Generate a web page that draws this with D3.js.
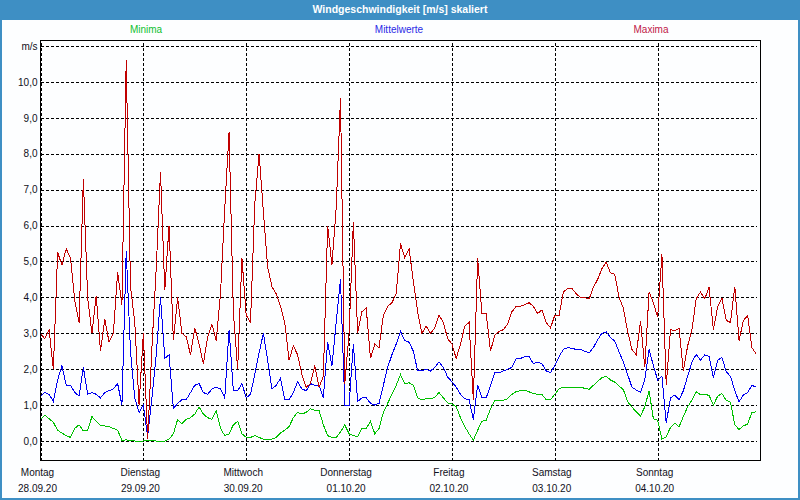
<!DOCTYPE html>
<html>
<head>
<meta charset="utf-8">
<script src="https://cdn.jsdelivr.net/npm/d3@7"></script>
<style>
  html, body { margin: 0; padding: 0; background: #ffffff; }
  svg { display: block; }
  text { font-family: "Liberation Sans", Arial, sans-serif; }
</style>
</head>
<body>
<svg id="chart" width="800" height="500"></svg>
<script>
// ---- data (hourly values, Monday 28.09.20 00:00 onward) ----
const chartTitle = "Windgeschwindigkeit [m/s] skaliert";
const legendLabels = ["Minima", "Mittelwerte", "Maxima"];
const dayNames = ["Montag", "Dienstag", "Mittwoch", "Donnerstag", "Freitag", "Samstag", "Sonntag"];
const dayDates = ["28.09.20", "29.09.20", "30.09.20", "01.10.20", "02.10.20", "03.10.20", "04.10.20"];
const yTicks = [0, 1, 2, 3, 4, 5, 6, 7, 8, 9, 10, 11];
const yUnit = "m/s";

const maxima = [
  3.0, 2.85, 3.1, 2.0, 5.25, 4.9, 5.35, 5.1, 3.9, 3.3, 7.3, 4.0, 3.0, 4.05, 2.5, 3.4, 2.75, 3.0, 4.7, 3.8,
  10.6, 4.3, 3.3, 1.0, 3.0, 0.05, 2.6, 4.8, 7.5, 4.2, 6.0, 2.8, 4.0, 3.0, 2.9, 2.4, 3.15, 2.7, 2.15, 2.9,
  3.25, 2.8, 4.1, 6.5, 8.6, 3.6, 2.0, 5.1, 3.5, 3.3, 6.6, 8.0, 6.4, 4.85, 4.3, 4.1, 3.75, 3.3, 2.25, 2.65,
  2.4, 1.85, 1.5, 1.6, 2.1, 1.5, 1.8, 6.0, 4.9, 6.5, 9.55, 1.6, 3.0, 6.1, 3.0, 3.6, 3.7, 2.3, 2.7, 2.6,
  3.5, 3.75, 3.85, 4.1, 5.5, 5.1, 5.35, 4.45, 3.6, 3.0, 3.2, 3.0, 3.15, 3.5, 3.3, 2.85, 2.7, 2.3, 2.7, 3.2,
  3.3, 1.15, 5.1, 3.55, 3.55, 2.5, 2.95, 3.05, 3.1, 3.25, 3.6, 3.75, 3.75, 3.8, 3.85, 3.75, 3.55, 3.65, 3.3, 3.15,
  3.5, 3.5, 4.15, 4.25, 4.25, 4.1, 4.0, 4.0, 3.95, 4.28, 4.5, 4.8, 4.98, 4.68, 4.64, 4.0, 3.7, 3.05, 2.55, 2.4,
  3.35, 2.05, 4.15, 3.85, 3.45, 5.2, 1.55, 3.1, 3.07, 3.13, 1.95, 2.65, 3.1, 3.96, 4.15, 3.96, 4.28, 3.1, 3.73, 3.98,
  3.36, 3.3, 4.3, 2.8, 3.35, 3.5, 2.6, 2.42
];
const mittelwerte = [
  1.25, 1.35, 1.3, 1.1, 1.7, 2.1, 1.55, 1.55, 1.35, 1.25, 2.05, 1.3, 1.35, 1.3, 1.2, 1.35, 1.4, 1.45, 1.6, 1.0,
  5.3, 2.5, 1.2, 0.8, 1.0, 0.12, 1.2, 2.4, 4.0, 2.3, 2.4, 0.9, 1.05, 1.15, 1.15, 1.35, 1.55, 1.6, 1.35, 1.3,
  1.45, 1.5, 1.45, 1.2, 3.1, 1.4, 1.4, 1.6, 1.2, 1.3, 1.85, 2.45, 3.0, 2.25, 1.45, 1.55, 1.75, 1.15, 1.15, 1.35,
  1.65, 1.45, 1.4, 1.6, 1.55, 1.55, 1.2, 2.75, 2.1, 3.3, 4.5, 1.0, 1.0, 2.7, 1.1, 1.2, 1.2, 1.05, 1.0, 1.05,
  1.55, 2.05, 2.4, 2.7, 3.05, 2.8, 2.75, 2.5, 1.95, 1.95, 2.0, 1.95, 2.05, 2.2, 2.05, 1.78, 1.65, 1.5, 1.3, 1.18,
  1.15, 0.6, 1.55, 1.2, 1.2, 1.55, 1.9, 1.9, 1.95, 2.0, 2.05, 2.3, 2.3, 2.35, 2.35, 2.15, 2.2, 2.15, 1.95, 1.9,
  2.1, 2.35, 2.55, 2.6, 2.58, 2.55, 2.55, 2.5, 2.45, 2.6, 2.82, 3.0, 3.04, 2.88, 2.78, 2.48, 2.2, 1.85, 1.5, 1.42,
  1.36, 1.7, 2.55, 2.1, 1.7, 1.8, 0.5, 1.2, 1.28, 1.15, 1.4, 1.8, 2.2, 2.41, 2.25, 2.4, 2.35, 1.75, 2.25, 2.33,
  1.93, 1.8, 1.4, 1.09, 1.28, 1.35, 1.55, 1.5
];
const minima = [
  0.6, 0.72, 0.62, 0.52, 0.3, 0.22, 0.15, 0.1, 0.35, 0.45, 0.28, 0.3, 0.68, 0.55, 0.44, 0.42, 0.4, 0.35, 0.3, 0.02,
  0.03, 0.02, 0.0, 0.0, 0.0, 0.02, 0.02, 0.0, 0.0, 0.0, 0.05, 0.2, 0.6, 0.48, 0.6, 0.65, 0.75, 0.95, 0.75, 0.65,
  0.6, 0.85, 0.35, 0.15, 0.2, 0.45, 0.55, 0.2, 0.1, 0.1, 0.15, 0.1, 0.05, 0.05, 0.05, 0.1, 0.22, 0.3, 0.4, 0.65,
  0.8, 0.75, 0.8, 0.9, 0.85, 0.85, 0.45, 0.15, 0.1, 0.1, 0.25, 0.45, 0.2, 0.15, 0.12, 0.35, 0.35, 0.55, 0.2, 0.35,
  0.8, 1.05, 1.3, 1.55, 1.85, 1.6, 1.62, 1.55, 1.2, 1.15, 1.18, 1.17, 1.22, 1.35, 1.2, 1.06, 1.03, 0.95, 0.65, 0.4,
  0.2, 0.02, 0.3, 0.55, 0.58, 0.9, 1.12, 1.13, 1.13, 1.18, 1.3, 1.38, 1.4, 1.42, 1.37, 1.32, 1.3, 1.3, 1.15, 1.15,
  1.3, 1.45, 1.5, 1.5, 1.5, 1.5, 1.49, 1.47, 1.44, 1.55, 1.66, 1.76, 1.8, 1.7, 1.64, 1.53, 1.43, 1.09, 0.95, 0.81,
  0.7, 0.95, 1.4, 0.62, 0.58, 0.05, 0.12, 0.38, 0.5, 0.4, 0.68, 0.95, 1.14, 1.37, 1.29, 1.3, 1.27, 1.0, 1.25, 1.32,
  1.13, 1.08, 0.45, 0.32, 0.42, 0.47, 0.8, 0.81
];

// ---- layout ----
const W = 800, H = 500;
const plot = { left: 40.5, right: 760.5, top: 40.5, bottom: 460.5 };
const frameBlue = "#3e8fc4";
const seriesColors = { min: "#00c000", mean: "#0000f0", max: "#c00000" };
const legendColors = ["#10c030", "#2a2ae6", "#c01848"];
const textColor = "#101020";

const svg = d3.select("#chart");

// background
svg.append("rect").attr("x", 0).attr("y", 0).attr("width", W).attr("height", H).attr("fill", "#fdfeff");

// scales
const x = d3.scaleLinear().domain([0, 168]).range([plot.left, plot.right]);
const y = d3.scaleLinear().domain([0, 11]).range([441, 46]);

// title bar
svg.append("rect").attr("x", 0).attr("y", 0).attr("width", W).attr("height", 20).attr("fill", frameBlue);
svg.append("text").attr("x", W / 2).attr("y", 10.5)
  .attr("text-anchor", "middle").attr("dominant-baseline", "middle")
  .attr("fill", "#ffffff").attr("font-weight", "bold").attr("font-size", "10.5px")
  .text(chartTitle);

// outer border
svg.append("rect").attr("x", 1).attr("y", 1).attr("width", W - 2).attr("height", H - 2)
  .attr("fill", "none").attr("stroke", frameBlue).attr("stroke-width", 2);

// legend
const legendX = [146, 399, 651];
svg.selectAll("text.legend").data(legendLabels).join("text")
  .attr("class", "legend")
  .attr("x", (d, i) => legendX[i]).attr("y", 30.5)
  .attr("text-anchor", "middle").attr("dominant-baseline", "middle")
  .attr("font-size", "10px")
  .attr("fill", (d, i) => legendColors[i])
  .text(d => d);

// y axis with horizontal grid
const yAxis = d3.axisLeft(y)
  .tickValues(yTicks)
  .tickSizeInner(-(756.5 - plot.left))
  .tickSizeOuter(0)
  .tickPadding(3)
  .tickFormat(v => v === 11 ? yUnit : v.toFixed(1).replace(".", ","));
const gy = svg.append("g").attr("transform", `translate(${plot.left},0)`).call(yAxis);
gy.select(".domain").remove();
gy.selectAll(".tick line").attr("stroke", "#000").attr("stroke-dasharray", "3,2")
  .attr("shape-rendering", "crispEdges");
gy.selectAll(".tick text").attr("fill", textColor).attr("font-size", "10px")
  .attr("font-family", "Liberation Sans, Arial, sans-serif");

// x axis with vertical grid
const dayTicks = dayNames.map((d, i) => i * 24);
const xAxis = d3.axisBottom(x)
  .tickValues(dayTicks)
  .tickSizeInner(-(plot.bottom - plot.top))
  .tickSizeOuter(0)
  .tickFormat("");
const gx = svg.append("g").attr("transform", `translate(0,${plot.bottom})`).call(xAxis);
gx.select(".domain").remove();
gx.selectAll(".tick line").attr("stroke", "#000").attr("stroke-dasharray", "3,2")
  .attr("shape-rendering", "crispEdges");

// day labels
const lbl = svg.append("g").attr("fill", textColor).attr("font-size", "10px");
lbl.selectAll("text.day").data(dayNames).join("text")
  .attr("class", "day")
  .attr("x", (d, i) => x(i * 24) - 3).attr("y", 473)
  .attr("text-anchor", "middle").attr("dominant-baseline", "middle")
  .text(d => d);
lbl.selectAll("text.date").data(dayDates).join("text")
  .attr("class", "date")
  .attr("x", (d, i) => x(i * 24) - 3).attr("y", 489)
  .attr("text-anchor", "middle").attr("dominant-baseline", "middle")
  .text(d => d);

// series
const line = d3.line().x((d, i) => x(i)).y(d => y(d));
const series = [
  { values: minima, color: seriesColors.min },
  { values: mittelwerte, color: seriesColors.mean },
  { values: maxima, color: seriesColors.max }
];
svg.append("g").selectAll("path").data(series).join("path")
  .attr("d", d => line(d.values))
  .attr("fill", "none")
  .attr("stroke", d => d.color)
  .attr("stroke-width", 1)
  .attr("shape-rendering", "crispEdges");

// plot frame
svg.append("rect")
  .attr("x", plot.left).attr("y", plot.top)
  .attr("width", plot.right - plot.left).attr("height", plot.bottom - plot.top)
  .attr("fill", "none").attr("stroke", "#000").attr("stroke-width", 1)
  .attr("shape-rendering", "crispEdges");
</script>
</body>
</html>
